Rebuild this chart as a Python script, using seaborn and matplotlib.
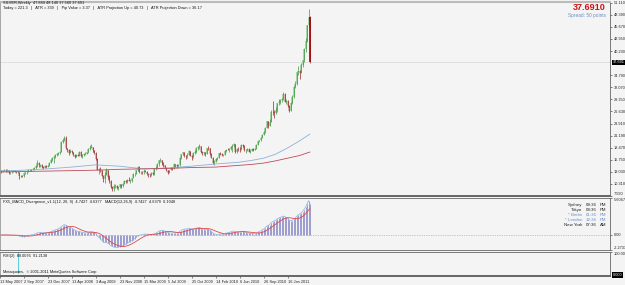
import numpy as np
import pandas as pd
import matplotlib
matplotlib.use("Agg")
import matplotlib.pyplot as plt
import matplotlib.transforms as mtransforms
import seaborn as sns

# SILVER weekly candles, first week = 13 May 2007
first_open = 13.30
weekly_close = [
    13.25, 13.05, 13.35, 13.45, 13.15, 13.50, 12.75, 12.95,
    13.15, 13.20, 13.10, 12.90, 13.00, 12.10, 12.05, 12.00,
    12.70, 12.90, 13.10, 13.40, 13.50, 13.45, 13.75, 13.80,
    14.25, 15.05, 14.50, 14.55, 14.20, 14.00, 14.45, 14.10,
    14.45, 15.10, 15.80, 16.10, 16.45, 16.80, 16.95, 17.25,
    17.60, 19.80, 20.20, 20.55, 18.30, 18.05, 17.30, 17.75,
    17.50, 16.85, 16.45, 16.85, 16.70, 17.60, 16.70, 16.85,
    16.95, 17.10, 17.40, 18.20, 18.50, 18.55, 17.85, 17.30,
    16.00, 13.55, 13.60, 13.35, 12.20, 11.50, 12.40, 13.40,
    11.95, 11.05, 9.60, 9.25, 9.85, 9.95, 9.45, 9.65,
    10.20, 9.75, 10.35, 10.95, 10.75, 11.30, 11.05, 11.05,
    11.60, 12.50, 12.60, 13.40, 14.20, 12.90, 13.05, 12.95,
    13.20, 13.10, 12.60, 12.55, 12.25, 12.75, 12.45, 13.70,
    14.00, 14.75, 15.60, 15.65, 15.10, 14.55, 14.00, 13.45,
    12.80, 13.45, 13.90, 13.75, 14.75, 14.65, 14.25, 14.55,
    16.25, 17.05, 17.40, 16.70, 16.60, 16.85, 17.65, 16.65,
    16.35, 17.20, 17.45, 18.40, 18.60, 18.80, 17.50, 17.25,
    17.50, 17.00, 18.40, 18.35, 17.05, 16.20, 14.95, 15.35,
    15.95, 16.15, 17.20, 17.15, 16.80, 16.85, 17.70, 18.05,
    18.00, 18.10, 18.60, 18.75, 19.30, 17.50, 18.20, 18.15,
    18.10, 19.10, 18.85, 17.90, 17.90, 18.10, 17.60, 17.80,
    18.10, 18.05, 18.25, 19.15, 19.90, 20.10, 20.70, 21.30,
    22.00, 23.00, 24.40, 23.40, 24.35, 26.55, 26.40, 26.35,
    26.95, 28.50, 28.80, 29.20, 29.45, 30.65, 28.75, 29.00,
    27.85, 26.80, 28.60, 29.80, 32.20, 32.70, 35.45, 35.80,
    35.30, 37.10, 38.10, 40.60, 42.40, 46.15, 47.90, 37.691,
]
weekly_high = [
    13.55, 13.35, 13.50, 13.75, 13.60, 13.65, 13.55, 13.10,
    13.30, 13.45, 13.35, 13.20, 13.25, 13.05, 12.40, 12.35,
    12.85, 13.05, 13.30, 13.60, 13.75, 13.70, 13.95, 14.10,
    14.55, 15.80, 15.20, 14.90, 14.75, 14.40, 14.65, 14.55,
    14.55, 15.25, 16.00, 16.35, 16.60, 16.95, 17.30, 17.40,
    17.75, 19.95, 20.40, 21.00, 21.20, 18.40, 18.10, 18.20,
    17.95, 17.55, 17.00, 17.10, 17.10, 17.75, 17.65, 17.10,
    17.35, 17.45, 17.60, 18.35, 19.00, 19.30, 18.60, 17.95,
    17.40, 16.10, 14.00, 14.05, 13.50, 12.40, 12.95, 13.95,
    13.45, 12.30, 11.20, 9.95, 10.25, 10.35, 10.05, 9.90,
    10.40, 10.30, 10.55, 11.15, 11.10, 11.40, 11.85, 11.35,
    11.75, 12.70, 12.85, 13.55, 14.45, 14.30, 13.25, 13.20,
    13.75, 13.45, 13.25, 12.75, 12.65, 12.90, 12.95, 13.85,
    14.25, 14.95, 15.75, 16.20, 15.80, 15.20, 14.65, 14.10,
    13.55, 13.55, 14.05, 14.10, 14.95, 14.90, 14.75, 14.75,
    16.35, 17.15, 17.55, 17.55, 16.85, 17.20, 18.00, 17.80,
    16.90, 17.45, 17.90, 18.55, 18.85, 19.30, 18.95, 17.70,
    17.55, 17.55, 18.45, 18.85, 18.45, 17.20, 16.40, 15.75,
    16.10, 16.40, 17.35, 17.50, 17.35, 17.10, 17.85, 18.25,
    18.50, 18.35, 18.80, 19.20, 19.55, 19.35, 18.45, 18.60,
    18.55, 19.25, 19.35, 19.00, 18.10, 18.45, 18.35, 18.10,
    18.35, 18.45, 18.45, 19.25, 19.95, 20.30, 20.95, 21.45,
    22.15, 23.20, 24.55, 24.50, 24.85, 26.85, 28.90, 26.95,
    27.65, 28.60, 29.35, 29.45, 29.70, 30.95, 30.75, 29.40,
    29.10, 28.00, 28.75, 30.35, 32.40, 33.40, 35.55, 36.75,
    36.05, 37.60, 38.20, 40.90, 43.10, 46.20, 49.80, 48.14,
]
weekly_low = [
    13.05, 12.85, 12.95, 13.20, 13.00, 13.05, 12.60, 12.65,
    12.85, 13.05, 12.95, 12.75, 12.70, 11.50, 11.80, 11.85,
    11.95, 12.55, 12.65, 13.00, 13.20, 13.15, 13.40, 13.50,
    13.70, 14.20, 14.15, 14.10, 13.95, 13.70, 13.90, 13.95,
    14.05, 14.40, 15.00, 15.55, 15.05, 16.10, 16.55, 16.80,
    17.05, 17.55, 19.55, 19.90, 18.10, 17.40, 16.90, 17.25,
    17.30, 16.60, 16.15, 16.35, 16.50, 16.65, 16.45, 16.25,
    16.55, 16.80, 16.95, 17.30, 17.90, 18.30, 17.60, 17.15,
    15.80, 13.35, 12.50, 13.10, 12.10, 10.75, 10.60, 12.30,
    11.50, 10.60, 9.45, 8.80, 8.65, 9.30, 9.25, 8.85,
    9.40, 9.45, 9.55, 10.20, 10.50, 10.60, 10.90, 10.55,
    10.85, 11.55, 12.00, 12.50, 13.30, 12.80, 12.45, 12.50,
    12.60, 12.90, 12.30, 11.90, 11.85, 12.10, 12.30, 12.40,
    13.45, 13.75, 14.45, 15.35, 14.60, 14.10, 13.80, 13.20,
    12.60, 12.75, 13.35, 13.40, 13.70, 14.15, 13.90, 14.05,
    14.45, 16.00, 16.80, 16.35, 15.90, 16.25, 16.80, 16.60,
    15.80, 16.20, 17.05, 17.35, 18.05, 18.10, 17.25, 16.85,
    16.75, 16.70, 16.95, 17.95, 16.75, 16.05, 14.75, 14.65,
    15.25, 15.70, 16.10, 16.90, 16.60, 16.55, 16.80, 17.55,
    17.85, 17.40, 17.95, 17.60, 18.65, 17.20, 17.30, 17.75,
    17.50, 18.05, 18.55, 17.75, 17.35, 17.75, 17.45, 17.30,
    17.70, 17.70, 17.95, 18.20, 19.00, 19.65, 20.00, 20.55,
    21.25, 21.75, 22.90, 22.85, 23.35, 24.20, 25.85, 25.15,
    26.10, 26.40, 28.00, 28.25, 28.85, 29.30, 28.70, 28.35,
    27.55, 26.40, 26.75, 28.30, 29.70, 31.80, 32.60, 34.90,
    33.85, 35.20, 36.70, 37.85, 39.90, 42.30, 45.75, 37.56,
]
current_ohlc = [47.884, 48.140, 37.560, 37.691]

# moving averages (week index, price)
ma_weeks = [0, 16, 32, 48, 64, 80, 96, 112, 128, 144, 160, 168, 176, 184, 192, 200, 207]
ma_blue = [13.2, 13.4, 13.7, 14.1, 14.6, 14.3, 13.7, 13.9, 14.3, 14.8, 15.2, 15.6, 16.1, 17.0, 18.4, 20.0, 21.55]
ma_red = [13.0, 13.1, 13.2, 13.3, 13.4, 13.6, 13.7, 13.8, 14.0, 14.1, 14.5, 14.7, 15.0, 15.5, 16.1, 16.7, 17.5]

date_ticks = [0, 16, 32, 48, 64, 80, 96, 112, 128, 144, 160, 176, 192]
date_labels = ["13 May 2007", "2 Sep 2007", "23 Dec 2007", "13 Apr 2008", "3 Aug 2008",
               "23 Nov 2008", "15 Mar 2009", "5 Jul 2009", "25 Oct 2009", "14 Feb 2010",
               "6 Jun 2010", "26 Sep 2010", "16 Jan 2011"]
price_ticks = [7.590, 10.310, 13.030, 15.750, 18.470, 21.190, 23.910, 26.630, 29.350,
               32.070, 34.790, 40.230, 42.950, 45.670, 48.390, 51.110]
macd_ticks = [-2.2733, 0.0, 5.6067]
macd_tick_labels = ["-2.2733", "0.00", "5.6067"]
rsi_spike_week = 12

clocks = [("Sydney", "09:36", "PM"), ("Tokyo", "08:36", "PM"), ("* Berlin", "01:36", "PM"),
          ("* London", "12:36", "PM"), ("New York", "07:36", "AM")]

# ---------------------------------------------------------------------------
df = pd.DataFrame({"close": weekly_close, "high": weekly_high, "low": weekly_low})
df["week"] = np.arange(len(df))
df["open"] = df["close"].shift(1).fillna(first_open)
df.loc[df.index[-1], "open"] = current_ohlc[0]
df["high"] = df[["high", "open", "close"]].max(axis=1)
df["low"] = df[["low", "open", "close"]].min(axis=1)

# MACD(12,26,9) computed from the closes
ema12 = df["close"].ewm(span=12, adjust=False).mean()
ema26 = df["close"].ewm(span=26, adjust=False).mean()
df["macd"] = ema12 - ema26
df["signal"] = df["macd"].rolling(9, min_periods=1).mean()

sns.set_theme(style="white")
plt.rcParams["font.family"] = ["Liberation Sans", "DejaVu Sans"]
BG = "#f4f4f4"
W, H = 625, 285
fig = plt.figure(figsize=(W / 100, H / 100), dpi=100, facecolor=BG)


def box(y0, y1, x1=610):
    return [0, 1 - y1 / H, x1 / W, (y1 - y0) / H]


def px(x, y):
    return x / W, 1 - y / H


ax = fig.add_axes(box(2, 196))
ax_m = fig.add_axes(box(198, 250))
ax_r = fig.add_axes(box(252, 276))
xlim = (0.33, 407.0)

for a in (ax, ax_m, ax_r):
    a.set_facecolor(BG)
    a.set_xlim(*xlim)
    a.yaxis.tick_right()
    a.tick_params(axis="y", labelsize=2.8, length=1.5, width=0.4, pad=1, colors="#222222")
    a.tick_params(axis="x", bottom=False, labelbottom=False)
    for s in a.spines.values():
        s.set_color("#666666")
        s.set_linewidth(0.6)
    a.spines["left"].set_color("#999999")
ax.spines["bottom"].set_linewidth(1.4)
ax.spines["top"].set_color("#bbbbbb")
ax.spines["top"].set_linewidth(1.5)
ax_r.spines["bottom"].set_linewidth(1.4)

# --- candles ---
bull = df["close"] >= df["open"]
up, dn = df[bull], df[~bull]
ax.vlines(up["week"], up["open"], up["close"], color="#8fd08f", lw=1.1)
ax.vlines(dn["week"], dn["open"], dn["close"], color="#d7a0a0", lw=1.1)
ax.vlines(up["week"], up["low"], up["high"], color="#2e8b2e", lw=0.45)
ax.vlines(dn["week"], dn["low"], dn["high"], color="#8b1010", lw=0.45)
last = df.iloc[-1]
ax.vlines(last["week"], last["close"], last["open"], color="#a00000", lw=1.1)

sns.lineplot(x=ma_weeks, y=ma_blue, ax=ax, color="#8fb0d8", lw=0.6)
sns.lineplot(x=ma_weeks, y=ma_red, ax=ax, color="#c04a5a", lw=0.6)
ax.axhline(current_ohlc[3], color="#d6d6d6", lw=0.5, zorder=0)

ax.set_ylim(7.59, 51.27)
ax.set_yticks(price_ticks)
ax.set_yticklabels([f"{v:.3f}" for v in price_ticks])
ax.get_yticklabels()[0].set_va("bottom")
ax.set_xlabel("")
ax.set_ylabel("")
trans = mtransforms.blended_transform_factory(ax.transAxes, ax.transData)
ax.text(1.004, current_ohlc[3], f"{current_ohlc[3]:.3f}", transform=trans, ha="left",
        va="center", fontsize=2.8, color="white",
        bbox=dict(facecolor="black", edgecolor="none", pad=0.5))

# --- MACD ---
ax_m.vlines(df["week"], 0, df["macd"], color="#8585c5", lw=0.55)
sns.lineplot(x=df["week"], y=df["macd"], ax=ax_m, color="#8cb4e0", lw=0.5)
sns.lineplot(x=df["week"], y=df["signal"], ax=ax_m, color="#e04848", lw=0.6)
ax_m.axhline(0, color="#999999", lw=0.5, ls=(0, (1, 1.5)))
ax_m.set_ylim(macd_ticks[0], macd_ticks[-1])
ax_m.set_yticks(macd_ticks)
ax_m.set_yticklabels(macd_tick_labels)
mlabels = ax_m.get_yticklabels()
mlabels[0].set_va("bottom")
mlabels[-1].set_va("top")
ax_m.set_xlabel("")
ax_m.set_ylabel("")

# --- RSI ---
ax_r.axvline(rsi_spike_week, color="#40c8d8", lw=0.6, ymin=0.12, ymax=1)
ax_r.set_ylim(0, 100)
ax_r.set_yticks([100])
ax_r.set_yticklabels(["100.00"])
ax_r.get_yticklabels()[0].set_va("top")
ax_r.text(1.004, 0.05, "0.000", transform=ax_r.transAxes, ha="left", va="center",
          fontsize=2.8, color="white", bbox=dict(facecolor="black", edgecolor="none", pad=0.5))
ax_r.set_xticks(date_ticks)
ax_r.set_xticklabels(date_labels, ha="left")
ax_r.tick_params(axis="x", bottom=True, labelbottom=True, labelsize=2.8, length=1.5,
                 width=0.4, pad=1.5, colors="#222222")

# --- texts ---
fig.text(*px(3, 3.3), "SILVER,Weekly  47.884 48.140 37.560 37.691", fontsize=2.8, va="center", color="#111111")
fig.text(*px(3, 7.5), "Today = 221.3   |   ATR = 339   |   Pip Value = 3.37   |   "
         "ATR Projection Up = 40.73   |   ATR Projection Down = 36.17", fontsize=2.8, va="center", color="#111111")
fig.text(*px(606, 7), f"{current_ohlc[3]:.4f}", fontsize=6.5, fontweight="bold", color="#cc1111",
         ha="right", va="center")
fig.text(*px(606, 15), "Spread: 50 points", fontsize=3.4, color="#6a8fc0", ha="right", va="center")
fig.text(*px(3, 201.5), "FX5_MACD_Divergence_v1.1(12, 26, 9)  4.7427  4.6377   MACD(12,26,9)  4.7427  4.6379  0.1048",
         fontsize=2.8, va="center", color="#111111")
fig.text(*px(3, 255.5), "RSI(2)  88.0076  91.2138", fontsize=2.8, va="center", color="#111111")
fig.text(*px(3, 272.5), "Metaquotes,  \u00a9 2001-2011 MetaQuotes Software Corp.", fontsize=2.8,
         va="center", color="#111111")
for k, (city, t, ap) in enumerate(clocks):
    y = 205 + 5.1 * k
    c = "#6a8fc8" if city.startswith("*") else "#222222"
    fig.text(*px(582, y), city, fontsize=3.2, ha="right", va="center", color=c)
    fig.text(*px(586, y), t, fontsize=3.2, ha="left", va="center", color=c)
    fig.text(*px(600, y), ap, fontsize=3.2, ha="left", va="center", color=c)

fig.savefig("out.png", dpi=100, facecolor=BG)
